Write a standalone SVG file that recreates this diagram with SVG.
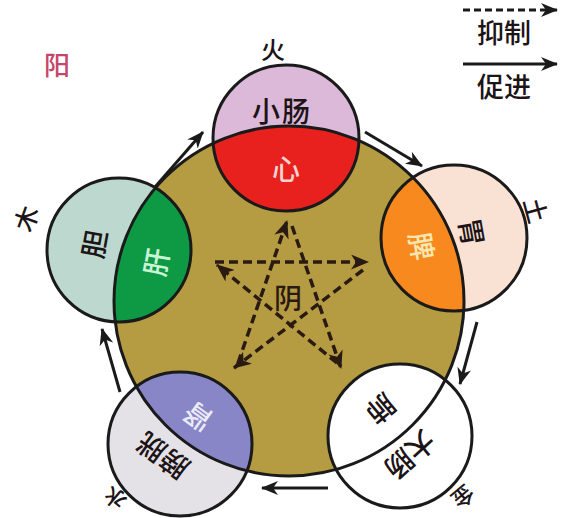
<svg xmlns="http://www.w3.org/2000/svg" width="572" height="518" viewBox="0 0 572 518">
<style>
.t{font-family:"Noto Sans CJK SC","Noto Sans",sans-serif;font-weight:500;text-anchor:middle;dominant-baseline:central;fill:#1c1416}
.ol{fill:none;stroke:#1a1a1a;stroke-width:3}
.inner{stroke:#1a1a1a;stroke-width:3}
.arr{fill:none;stroke:#1a1a1a;stroke-width:3;marker-end:url(#ah)}
.star{fill:none;stroke:#2a1b12;stroke-width:3.5;stroke-dasharray:9 5;marker-end:url(#sh)}
</style>
<defs>
<circle id="big" cx="289" cy="301" r="175"/>
<marker id="ah" viewBox="0 0 17 14" refX="16" refY="7" markerWidth="17" markerHeight="14" markerUnits="userSpaceOnUse" orient="auto"><path d="M0,0 L17,7 L0,14 L5,7 z" fill="#1a1a1a"/></marker>
<marker id="sh" viewBox="0 0 18 15" refX="17" refY="7.5" markerWidth="18" markerHeight="15" markerUnits="userSpaceOnUse" orient="auto"><path d="M0,0 L18,7.5 L0,15 L5,7.5 z" fill="#2a1b12"/></marker>
<clipPath id="cFire"><circle cx="286" cy="138" r="73"/></clipPath>
<clipPath id="cWood"><circle cx="119" cy="250" r="72"/></clipPath>
<clipPath id="cEarth"><circle cx="454" cy="238" r="73"/></clipPath>
<clipPath id="cMetal"><circle cx="400" cy="436" r="72"/></clipPath>
<clipPath id="cWater"><circle cx="180" cy="444" r="72"/></clipPath>
</defs>
<rect width="572" height="518" fill="#ffffff"/>

<text class="t" x="57" y="63" font-size="26" style="fill:#c4466a">阳</text>

<g id="yin">
<use href="#big" fill="#b59b42" stroke="#1a1a1a" stroke-width="3"/>
<text class="t" x="288" y="297" font-size="28" style="fill:#2a1b12">阴</text>
</g>

<g id="fire">
<circle cx="286" cy="138" r="73" fill="#dcb9d9"/>
<use href="#big" clip-path="url(#cFire)" fill="#e8201e" class="inner"/>
<circle cx="286" cy="138" r="73" class="ol"/>
<text class="t" x="273" y="48" font-size="24">火</text>
<text class="t" x="282" y="110" font-size="28" letter-spacing="2">小肠</text>
<text class="t" x="286" y="168" font-size="28" style="fill:#f7d2cf">心</text>
</g>

<g id="wood">
<circle cx="119" cy="250" r="72" fill="#bdd9cf"/>
<use href="#big" clip-path="url(#cWood)" fill="#0e9a45" class="inner"/>
<circle cx="119" cy="250" r="72" class="ol"/>
<text class="t" font-size="25" transform="translate(25,218) rotate(-70)">木</text>
<text class="t" font-size="28" transform="translate(93,244) rotate(-80)">胆</text>
<text class="t" font-size="28" transform="translate(155,262) rotate(-80)" style="fill:#c8f5d6">肝</text>
</g>

<g id="earth">
<circle cx="454" cy="238" r="73" fill="#f9e1d4"/>
<use href="#big" clip-path="url(#cEarth)" fill="#f7891f" class="inner"/>
<circle cx="454" cy="238" r="73" class="ol"/>
<text class="t" font-size="25" transform="translate(537,210) rotate(75)">土</text>
<text class="t" font-size="28" transform="translate(473,232) rotate(80)">胃</text>
<text class="t" font-size="28" transform="translate(423,246) rotate(80)" style="fill:#f8e6ae">脾</text>
</g>

<g id="metal">
<circle cx="400" cy="436" r="72" fill="#ffffff"/>
<use href="#big" clip-path="url(#cMetal)" fill="#ffffff" class="inner"/>
<circle cx="400" cy="436" r="72" class="ol"/>
<text class="t" font-size="22" transform="translate(464,498) rotate(140)">金</text>
<text class="t" font-size="28" transform="translate(382,410) rotate(140)">肺</text>
<text class="t" font-size="28" transform="translate(411,456) rotate(138)">大肠</text>
</g>

<g id="water">
<circle cx="180" cy="444" r="72" fill="#e4e2e7"/>
<use href="#big" clip-path="url(#cWater)" fill="#8886c6" class="inner"/>
<circle cx="180" cy="444" r="72" class="ol"/>
<text class="t" font-size="22" transform="translate(114,499) rotate(-140)">水</text>
<text class="t" font-size="28" transform="translate(197,418) rotate(-144)" style="fill:#eceaf6">肾</text>
<text class="t" font-size="28" transform="translate(162,457) rotate(-144)">膀胱</text>
</g>

<g id="connectors">
<line class="arr" x1="155" y1="187" x2="203" y2="132"/>
<line class="arr" x1="365" y1="132" x2="422" y2="166"/>
<line class="arr" x1="477" y1="322" x2="460" y2="384"/>
<line class="arr" x1="328" y1="488" x2="262" y2="488"/>
<line class="arr" x1="120" y1="392" x2="102" y2="329"/>
<line class="star" x1="215" y1="262" x2="368" y2="262"/>
<line class="star" x1="363" y1="270" x2="234" y2="368"/>
<line class="star" x1="238" y1="363" x2="287" y2="221"/>
<line class="star" x1="292" y1="226" x2="341" y2="368"/>
<line class="star" x1="337" y1="363" x2="217" y2="265"/>
</g>

<g id="legend">
<line x1="463" y1="10" x2="557" y2="10" fill="none" stroke="#1a1a1a" stroke-width="3" stroke-dasharray="7 4" marker-end="url(#ah)"/>
<text class="t" x="504" y="31" font-size="27">抑制</text>
<line class="arr" x1="463" y1="64" x2="557" y2="64"/>
<text class="t" x="504" y="85" font-size="27">促进</text>
</g>
</svg>
